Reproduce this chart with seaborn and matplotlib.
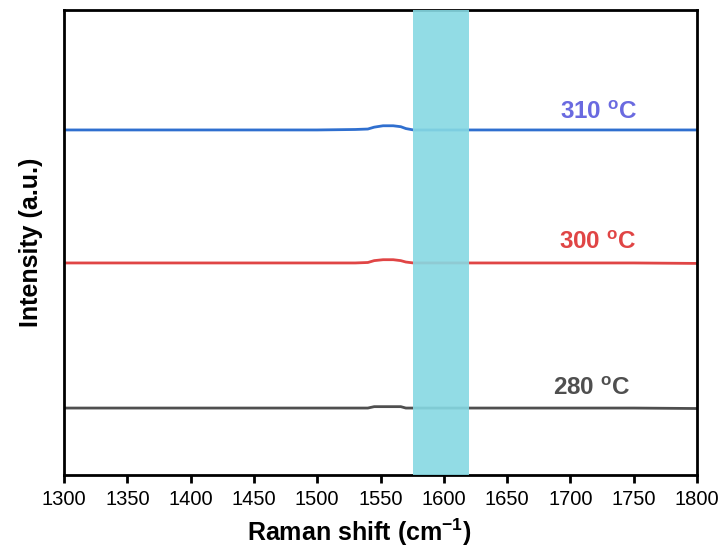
import matplotlib
matplotlib.use("Agg")
import matplotlib.pyplot as plt
import seaborn as sns
import pandas as pd

# ---- data ----
shift = [1300, 1350, 1400, 1450, 1500, 1530, 1540, 1545, 1552, 1560, 1566, 1570, 1576, 1600, 1650, 1700, 1750, 1800]
i280 = [14.4, 14.4, 14.4, 14.4, 14.4, 14.4, 14.4, 14.7, 14.7, 14.7, 14.7, 14.4, 14.4, 14.4, 14.4, 14.4, 14.4, 14.3]
i300 = [45.6, 45.6, 45.6, 45.6, 45.6, 45.6, 45.7, 46.1, 46.3, 46.3, 46.1, 45.8, 45.6, 45.6, 45.6, 45.6, 45.6, 45.5]
i310 = [74.2, 74.2, 74.2, 74.2, 74.2, 74.3, 74.4, 74.8, 75.1, 75.1, 74.9, 74.5, 74.2, 74.2, 74.2, 74.2, 74.2, 74.2]
series_labels = ["280 $^{\\mathregular{o}}$C", "300 $^{\\mathregular{o}}$C", "310 $^{\\mathregular{o}}$C"]
label_pos = [(1716.7, 17.2), (1721.4, 48.6), (1722.6, 76.6)]
band = (1576, 1620)
xticks = list(range(1300, 1801, 50))

line_colors = ["#4F4F4F", "#E04545", "#2F6FCF"]
text_colors = ["#4F4F4F", "#E04545", "#6A6AE0"]

sns.set_theme(style="white")
plt.rcParams['font.family'] = ['Liberation Sans', 'DejaVu Sans']
plt.rcParams['mathtext.fontset'] = 'custom'
plt.rcParams['mathtext.rm'] = 'Liberation Sans:bold'

fig = plt.figure(figsize=(7.25, 5.51), dpi=100)
ax = fig.add_axes([0.0883, 0.1379, 0.8731, 0.844])

for ys, c in zip([i280, i300, i310], line_colors):
    df = pd.DataFrame({"x": shift, "y": ys})
    sns.lineplot(data=df, x="x", y="y", ax=ax, color=c, linewidth=2, sort=False, estimator=None, zorder=2)

ax.axvspan(band[0], band[1], color="#86D9E3", alpha=0.9, zorder=3, lw=0)

for lab, (px, py), c in zip(series_labels, label_pos, text_colors):
    ax.text(px, py, lab, color=c, fontsize=17.5, fontweight="bold", ha="center", va="baseline")

ax.set_xlim(1300, 1800)
ax.set_ylim(0, 100)
ax.set_xticks(xticks)
ax.set_yticks([])
ax.set_xlabel("Raman shift (cm$^{\\mathregular{-1}}$)", fontsize=18, fontweight="bold", color="black")
ax.xaxis.set_label_coords(0.467, -0.09)
ax.set_ylabel("Intensity (a.u.)", fontsize=18, fontweight="bold", labelpad=15, color="black")
for lab in ax.get_xticklabels():
    lab.set_fontsize(14.5)
    lab.set_color("black")
ax.tick_params(axis="x", direction="out", length=6, width=2, color="black", bottom=True, pad=5)
for s in ax.spines.values():
    s.set_linewidth(2)
    s.set_color("black")

fig.savefig("out.png", dpi=100)
